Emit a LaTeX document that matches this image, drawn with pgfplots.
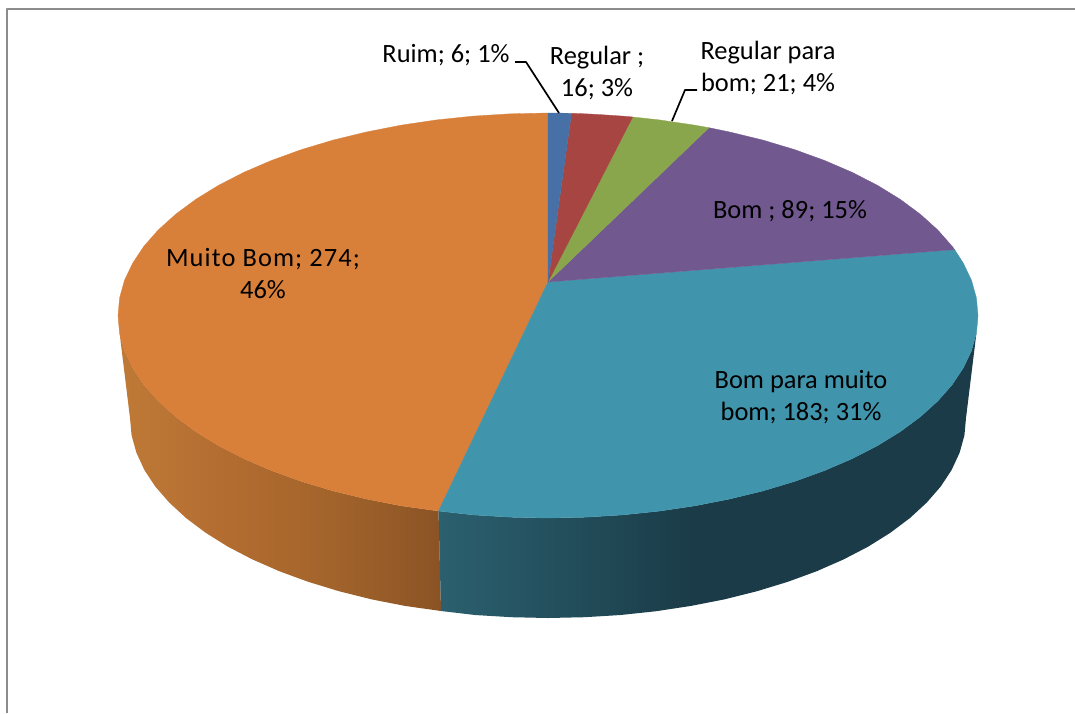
\documentclass[border=0pt]{standalone}
\usepackage{pgfplots}
\pgfplotsset{compat=1.18}
\usepackage{fontspec}
\setmainfont{Carlito}
\definecolor{cblue}{HTML}{4771A6}
\definecolor{cred}{HTML}{A64542}
\definecolor{cgreen}{HTML}{8AA64D}
\definecolor{cpurple}{HTML}{71588F}
\definecolor{cteal}{HTML}{4095AD}
\definecolor{corange}{HTML}{D87F3A}
\definecolor{frame}{HTML}{8C8C8C}
\definecolor{oa}{HTML}{BF7A37}
\definecolor{ob}{HTML}{B36C30}
\definecolor{oc}{HTML}{A2642B}
\definecolor{od}{HTML}{8B5325}
\definecolor{ta}{HTML}{2B606F}
\definecolor{tb}{HTML}{1A3B47}
\pgfdeclarehorizontalshading{orangeside}{100bp}{color(0bp)=(oa); color(25bp)=(oa); color(42bp)=(ob); color(58bp)=(oc); color(75bp)=(od); color(100bp)=(od)}
\pgfdeclarehorizontalshading{tealside}{100bp}{color(0bp)=(ta); color(25bp)=(ta); color(49bp)=(tb); color(100bp)=(tb)}
\begin{document}
\begin{tikzpicture}
\useasboundingbox (0,0) rectangle (1075pt,713pt);
\begin{axis}[
  scale only axis, width=1075pt, height=713pt,
  xmin=0, xmax=1075, ymin=0, ymax=713, y dir=reverse,
  axis lines=none, clip=true, no marks,
  every axis plot/.append style={line join=round},
]
% frame
\addplot[frame, line width=1.8pt, forget plot] coordinates {(7,713) (7,9) (1075,9)};
% orange side
\addplot[shade, shading=orangeside, draw=none, forget plot] coordinates {
(118,315.5)(119.6,333.15)(130,418)(131.6,435.4)(136.4,452.7)(144.3,469.8)(155.2,486.4)(169.2,502.5)(186,518)(205.6,532.7)(227.8,546.6)(252.4,559.4)(279.3,571.2)(308.2,581.8)(339,591.2)(371.3,599.3)(405,605.9)(441,611)
(438.5,511)(400.9,505.8)(366.3,499)(333,490.9)(301.4,481.4)(271.6,470.6)(243.9,458.7)(218.6,445.7)(195.8,431.7)(175.6,416.7)(158.3,401.1)(143.9,384.8)(132.7,367.9)(124.5,350.7)(119.6,333.15)(118,315.5)};
% teal side
\addplot[shade, shading=tealside, draw=none, forget plot] coordinates {
(438.5,511)(441,611)(475,615)(511.6,617.2)(548,618)(584.4,617.2)(620.6,615)(656.2,611.2)(691,605.9)(724.7,599.3)(757,591.2)(787.8,581.8)(816.7,571.2)(843.6,559.4)(868.2,546.6)(890.4,532.7)(910,518)(926.8,502.5)(940.8,486.4)(951.7,469.8)(959.6,452.7)(964.4,435.4)(966,418)(976.4,333.15)(978,315.5)
(976.4,333.15)(971.5,350.7)(963.3,367.9)(952.1,384.8)(937.7,401.1)(920.4,416.7)(900.2,431.7)(877.4,445.7)(852.1,458.7)(824.4,470.6)(794.6,481.4)(763,490.9)(729.7,499)(695.1,505.8)(659.3,511.1)(622.7,514.9)(585.5,517.2)(548,518)(510.5,517.2)(473.3,514.9)};
% orange top
\addplot[fill=corange, draw=corange, line width=0.3pt, forget plot] coordinates {
(548,282)(548,113)(510.5,113.8)(473.3,116.1)(436.7,119.9)(400.9,125.2)(366.3,132)(333,140.1)(301.4,149.6)(271.6,160.4)(243.9,172.3)(218.6,185.3)(195.8,199.3)(175.6,214.3)(158.3,229.9)(143.9,246.2)(132.7,263.1)(124.5,280.3)(119.6,297.85)(118,315.5)(119.6,333.15)(124.5,350.7)(132.7,367.9)(143.9,384.8)(158.3,401.1)(175.6,416.7)(195.8,431.7)(218.6,445.7)(243.9,458.7)(271.6,470.6)(301.4,481.4)(333,490.9)(366.3,499)(400.9,505.8)(438.5,511)(548,282)};
% teal top
\addplot[fill=cteal, draw=cteal, line width=0.3pt, forget plot] coordinates {
(548,282)(438.5,511)(473.3,514.9)(510.5,517.2)(548,518)(585.5,517.2)(622.7,514.9)(659.3,511.1)(695.1,505.8)(729.7,499)(763,490.9)(794.6,481.4)(824.4,470.6)(852.1,458.7)(877.4,445.7)(900.2,431.7)(920.4,416.7)(937.7,401.1)(952.1,384.8)(963.3,367.9)(971.5,350.7)(976.4,333.15)(978,315.5)(976.4,297.85)(971.5,280.3)(963.3,263.1)(954.6,249.6)(548,282)};
% purple top
\addplot[fill=cpurple, draw=cpurple, line width=0.3pt, forget plot] coordinates {
(548,282)(954.6,249.6)(952.1,246.2)(937.7,229.9)(920.4,214.3)(900.2,199.3)(877.4,185.3)(852.1,172.3)(824.4,160.4)(794.6,149.6)(763,140.1)(729.7,132)(709,127.7)(548,282)};
% green top
\addplot[fill=cgreen, draw=cgreen, line width=0.3pt, forget plot] coordinates {
(548,282)(709,127.7)(695.1,125.2)(659.3,119.9)(632.7,117)(548,282)};
% red top
\addplot[fill=cred, draw=cred, line width=0.3pt, forget plot] coordinates {
(548,282)(632.7,117)(622.7,116.1)(600,114.6)(585.5,113.8)(571.5,113.3)(548,282)};
% blue top
\addplot[fill=cblue, draw=cblue, line width=0.3pt, forget plot] coordinates {
(548,282)(571.5,113.3)(560,113.1)(548,113)(548,282)};
% leaders
\addplot[black, line width=1.7pt, forget plot] coordinates {(515,62)(526,62)(559,113)};
\addplot[black, line width=1.7pt, forget plot] coordinates {(697,90)(685,90)(672,121)};
% labels
\def\lbl{\fontsize{26.4}{32}\selectfont}
\node[align=center, font=\lbl, inner sep=0pt] at (axis cs:446,55) {Ruim; 6; 1\%};
\node[align=center, font=\lbl, inner sep=0pt] at (axis cs:597,73) {Regular ;\\16; 3\%};
\node[align=center, font=\lbl, inner sep=0pt] at (axis cs:768,68) {Regular para\\bom; 21; 4\%};
\node[align=center, font=\lbl, inner sep=0pt] at (axis cs:790,211) {Bom ; 89; 15\%};
\node[align=center, font=\lbl, inner sep=0pt] at (axis cs:801,397) {Bom para muito\\bom; 183; 31\%};
\node[align=center, font=\lbl, inner sep=0pt] at (axis cs:263,274) {{\addfontfeatures{LetterSpace=4.2}Muito Bom; 274;}\\46\%};
\end{axis}
\end{tikzpicture}
\end{document}
